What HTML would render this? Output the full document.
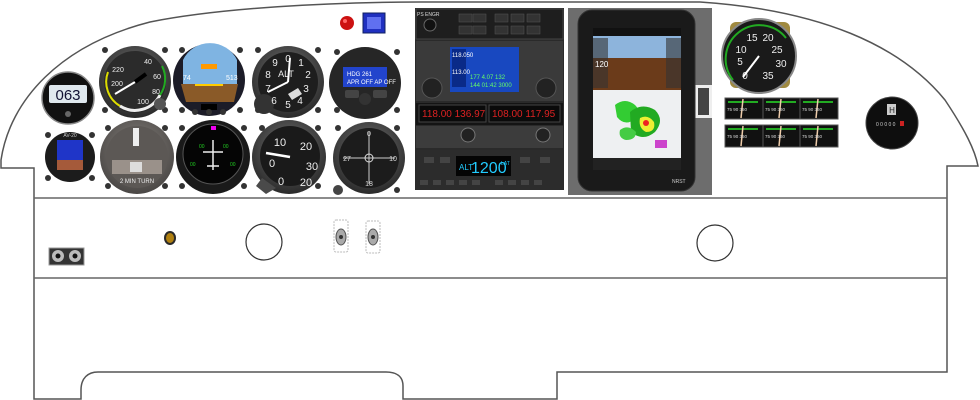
<!DOCTYPE html>
<html><head><meta charset="utf-8"><style>
html,body{margin:0;padding:0;background:#fff;}
svg{display:block;font-family:"Liberation Sans",sans-serif;}
</style></head><body>
<svg width="980" height="400" viewBox="0 0 980 400" xmlns="http://www.w3.org/2000/svg">
<defs>
<radialGradient id="bez" cx="50%" cy="40%" r="60%"><stop offset="0" stop-color="#777"/><stop offset="1" stop-color="#2a2a2a"/></radialGradient>
<radialGradient id="gray" cx="50%" cy="40%" r="60%"><stop offset="0" stop-color="#8a8580"/><stop offset="1" stop-color="#4a4745"/></radialGradient>
</defs>
<!-- panel outline -->
<path d="M34,399 L34,168 L1,168 L1,160 C10,100 60,45 150,22 C220,8 330,2 420,2 L700,2 C820,10 900,45 945,100 C965,130 975,150 978,166 L947,166 L947,372 L557,372 L557,399 L403,399 L403,386 C403,376 396,372 386,372 L98,372 C88,372 81,378 81,390 L81,399 Z" fill="#fff" stroke="#555" stroke-width="1.5"/>
<line x1="34" y1="198" x2="947" y2="198" stroke="#666" stroke-width="1.5"/>
<line x1="34" y1="278" x2="947" y2="278" stroke="#666" stroke-width="1.5"/>

<!-- screws -->
<g fill="#333">
<circle cx="105" cy="50" r="3"/><circle cx="165" cy="50" r="3"/><circle cx="105" cy="110" r="3"/><circle cx="165" cy="110" r="3"/>
<circle cx="182" cy="50" r="3"/><circle cx="240" cy="50" r="3"/><circle cx="182" cy="110" r="3"/><circle cx="240" cy="110" r="3"/>
<circle cx="258" cy="50" r="3"/><circle cx="318" cy="50" r="3"/><circle cx="258" cy="110" r="3"/><circle cx="318" cy="110" r="3"/>
<circle cx="337" cy="52" r="3"/><circle cx="397" cy="52" r="3"/><circle cx="337" cy="110" r="3"/><circle cx="397" cy="110" r="3"/>
<circle cx="48" cy="135" r="3"/><circle cx="92" cy="135" r="3"/><circle cx="48" cy="178" r="3"/><circle cx="92" cy="178" r="3"/>
<circle cx="108" cy="128" r="3"/><circle cx="165" cy="128" r="3"/><circle cx="108" cy="186" r="3"/><circle cx="165" cy="186" r="3"/>
<circle cx="182" cy="128" r="3"/><circle cx="244" cy="128" r="3"/><circle cx="182" cy="186" r="3"/><circle cx="244" cy="186" r="3"/>
<circle cx="262" cy="128" r="3"/><circle cx="318" cy="128" r="3"/><circle cx="318" cy="186" r="3"/>
<circle cx="338" cy="128" r="3"/><circle cx="397" cy="128" r="3"/><circle cx="338" cy="190" r="3"/><circle cx="397" cy="190" r="3"/>
</g>

<!-- clock -->
<circle cx="68" cy="98" r="26" fill="#111" stroke="#888" stroke-width="1.5"/>
<rect x="49" y="85" width="38" height="18" rx="2" fill="#dfe8ee"/>
<text x="68" y="100" font-size="15" text-anchor="middle" fill="#113">063</text>
<circle cx="68" cy="114" r="3" fill="#666"/>

<!-- airspeed -->
<circle cx="135" cy="82" r="36" fill="url(#bez)"/>
<circle cx="135" cy="82" r="31" fill="#2b2b2b"/>
<path d="M108,72 A28,28 0 0 0 120,106" stroke="#dd0" stroke-width="2" fill="none"/>
<path d="M120,106 A28,28 0 0 0 160,95" stroke="#eee" stroke-width="3" fill="none"/>
<path d="M160,95 A28,28 0 0 0 162,66" stroke="#2a2" stroke-width="2" fill="none"/>
<line x1="135" y1="82" x2="115" y2="94" stroke="#fff" stroke-width="2"/>
<line x1="135" y1="82" x2="146" y2="74" stroke="#000" stroke-width="4"/>
<g fill="#eee" font-size="7" text-anchor="middle"><text x="118" y="72">220</text><text x="117" y="86">200</text><text x="148" y="64">40</text><text x="157" y="79">60</text><text x="156" y="94">80</text><text x="143" y="104">100</text></g>
<circle cx="160" cy="104" r="6" fill="#555"/>

<!-- ADI -->
<circle cx="209" cy="80" r="36" fill="#1c1c28"/>
<path d="M183,60 A30,30 0 0 1 237,60 L237,84 L183,84 Z" fill="#7fb4e2"/>
<path d="M181,84 L238,84 L234,102 L186,102 Z" fill="#8a5a28"/>
<rect x="201" y="64" width="16" height="5" fill="#f90"/>
<line x1="195" y1="85" x2="223" y2="85" stroke="#fc0" stroke-width="2"/>
<text x="183" y="80" font-size="7" fill="#fff">74</text><text x="226" y="80" font-size="7" fill="#fff">513</text>
<rect x="201" y="104" width="16" height="6" fill="#000"/>
<circle cx="195" cy="112" r="3" fill="#333"/><circle cx="209" cy="112" r="3" fill="#333"/><circle cx="223" cy="112" r="3" fill="#333"/>

<!-- altimeter -->
<circle cx="288" cy="82" r="36" fill="url(#bez)"/>
<circle cx="288" cy="82" r="30" fill="#1e1e1e"/>
<circle cx="264" cy="104" r="10" fill="#333"/>
<g fill="#eee" font-size="10" text-anchor="middle"><text x="288" y="62">0</text><text x="301" y="66">1</text><text x="308" y="78">2</text><text x="306" y="92">3</text><text x="300" y="104">4</text><text x="288" y="108">5</text><text x="274" y="104">6</text><text x="268" y="92">7</text><text x="268" y="78">8</text><text x="275" y="66">9</text><text x="286" y="77" font-size="9">ALT</text></g>
<line x1="288" y1="82" x2="268" y2="92" stroke="#fff" stroke-width="2"/>
<line x1="288" y1="82" x2="290" y2="58" stroke="#fff" stroke-width="2"/>
<path d="M288,94 l10,-6 l4,6 l-10,6 z" fill="#ddd"/>

<!-- autopilot -->
<circle cx="365" cy="83" r="36" fill="#262626"/>
<rect x="343" y="67" width="44" height="20" fill="#2244cc"/>
<text x="347" y="76" font-size="6" fill="#fff">HDG 261</text><text x="347" y="84" font-size="6" fill="#fff">APR OFF  AP OFF</text>
<rect x="345" y="90" width="14" height="8" rx="2" fill="#444"/><rect x="373" y="90" width="14" height="8" rx="2" fill="#444"/>
<circle cx="365" cy="99" r="6" fill="#333"/>

<!-- AV-20 -->
<circle cx="70" cy="157" r="25" fill="#1c1c1c"/>
<rect x="57" y="140" width="26" height="30" fill="#1f35c8"/>
<rect x="57" y="160" width="26" height="10" fill="#a55a3a"/>
<text x="70" y="137" font-size="5" fill="#ccc" text-anchor="middle">AV-20</text>

<!-- turn coordinator -->
<circle cx="137" cy="157" r="37" fill="url(#gray)"/>
<circle cx="137" cy="157" r="31" fill="#5c5855"/>
<rect x="133" y="128" width="6" height="18" fill="#eee"/>
<rect x="112" y="160" width="50" height="14" fill="#9a918a"/>
<rect x="130" y="162" width="12" height="10" fill="#ddd"/>
<text x="137" y="183" font-size="6" fill="#eee" text-anchor="middle">2 MIN TURN</text>

<!-- EFIS -->
<circle cx="213" cy="157" r="37" fill="#1a1a1a"/>
<circle cx="213" cy="154" r="30" fill="#050505" stroke="#555"/>
<path d="M213,140 v30 M203,152 h20 M207,166 h12" stroke="#eee" stroke-width="1.5" fill="none"/>
<rect x="211" y="126" width="5" height="4" fill="#e0e"/>
<g fill="#2c2" font-size="5"><text x="199" y="148">00</text><text x="223" y="148">00</text><text x="190" y="166">00</text><text x="230" y="166">00</text></g>

<!-- VSI -->
<circle cx="289" cy="157" r="37" fill="url(#bez)"/>
<circle cx="290" cy="156" r="30" fill="#1a1a1a"/>
<path d="M262,178 l-6,8 l10,8 l10,-6 z" fill="#4a4a4a"/>
<g fill="#eee" font-size="11" text-anchor="middle"><text x="280" y="146">10</text><text x="306" y="150">20</text><text x="312" y="170">30</text><text x="272" y="167">0</text><text x="281" y="185">0</text><text x="306" y="186">20</text></g>
<line x1="290" y1="157" x2="266" y2="153" stroke="#fff" stroke-width="2.5"/>

<!-- DG -->
<circle cx="369" cy="158" r="36" fill="url(#bez)"/>
<circle cx="369" cy="158" r="30" fill="#1c1c1c"/>
<line x1="369" y1="132" x2="369" y2="184" stroke="#ccc"/><line x1="343" y1="158" x2="395" y2="158" stroke="#ccc"/>
<circle cx="369" cy="158" r="4" fill="none" stroke="#ddd"/>
<g fill="#ddd" font-size="7" text-anchor="middle"><text x="369" y="136">0</text><text x="393" y="161">10</text><text x="369" y="186">18</text><text x="347" y="161">27</text></g>
<circle cx="338" cy="190" r="5" fill="#444"/>

<!-- lights -->
<circle cx="347" cy="23" r="7" fill="#c11"/>
<circle cx="345" cy="21" r="2" fill="#f66"/>
<rect x="363" y="13" width="22" height="20" fill="#2030c0" stroke="#102060"/>
<rect x="367" y="17" width="14" height="12" fill="#6070f0"/>

<!-- center stack -->
<rect x="415" y="8" width="149" height="182" fill="#2a2a2a"/>
<rect x="416" y="9" width="147" height="30" fill="#1e1e1e" stroke="#444"/>
<circle cx="430" cy="25" r="6" fill="#111" stroke="#666"/>
<g fill="#333" stroke="#555" stroke-width=".5">
<rect x="459" y="14" width="13" height="8"/><rect x="473" y="14" width="13" height="8"/><rect x="495" y="14" width="13" height="8"/><rect x="511" y="14" width="13" height="8"/><rect x="527" y="14" width="13" height="8"/>
<rect x="459" y="26" width="13" height="8"/><rect x="473" y="26" width="13" height="8"/><rect x="495" y="26" width="13" height="8"/><rect x="511" y="26" width="13" height="8"/><rect x="527" y="26" width="13" height="8"/>
</g>
<text x="417" y="16" font-size="5" fill="#ddd">PS ENGR</text>
<rect x="416" y="41" width="147" height="60" fill="#3a3a3a"/>
<rect x="450" y="47" width="69" height="45" fill="#1848c0"/>
<rect x="452" y="49" width="14" height="38" fill="#0a2a88"/>
<text x="452" y="57" font-size="6" fill="#fff">118.050</text><text x="452" y="74" font-size="6" fill="#fff">113.00</text>
<text x="470" y="79" font-size="6" fill="#6f6">177  4.07  132</text><text x="470" y="87" font-size="6" fill="#6f6">144  01:42  3000</text>
<circle cx="432" cy="88" r="10" fill="#222" stroke="#555"/><circle cx="546" cy="88" r="10" fill="#222" stroke="#555"/>
<rect x="416" y="103" width="147" height="22" fill="#141414"/>
<rect x="419" y="105" width="67" height="17" fill="#0a0a0a" stroke="#444"/><rect x="489" y="105" width="71" height="17" fill="#0a0a0a" stroke="#444"/>
<text x="422" y="117" font-size="10" fill="#d22">118.00 136.97</text>
<text x="492" y="117" font-size="10" fill="#d22">108.00 117.95</text>
<rect x="416" y="126" width="147" height="22" fill="#3c3c3c"/>
<circle cx="468" cy="135" r="7" fill="#222" stroke="#777"/><circle cx="543" cy="135" r="7" fill="#222" stroke="#777"/>
<rect x="416" y="150" width="147" height="40" fill="#2c2c2c"/>
<rect x="456" y="156" width="55" height="20" fill="#050505"/>
<text x="459" y="170" font-size="8" fill="#2cf">ALT</text><text x="471" y="173" font-size="16" fill="#2cf">1200</text>
<text x="501" y="165" font-size="5" fill="#2cf">LAT</text>
<g fill="#444"><rect x="420" y="180" width="8" height="5"/><rect x="433" y="180" width="8" height="5"/><rect x="446" y="180" width="8" height="5"/><rect x="459" y="180" width="8" height="5"/><rect x="472" y="180" width="8" height="5"/><rect x="495" y="180" width="8" height="5"/><rect x="508" y="180" width="8" height="5"/><rect x="521" y="180" width="8" height="5"/><rect x="534" y="180" width="8" height="5"/><rect x="424" y="157" width="10" height="6"/><rect x="440" y="157" width="10" height="6"/><rect x="520" y="157" width="10" height="6"/><rect x="540" y="157" width="10" height="6"/></g>

<!-- tablet -->
<rect x="568" y="8" width="144" height="187" fill="#6d6d6d"/>
<rect x="695" y="85" width="17" height="33" fill="#eee"/>
<rect x="698" y="88" width="11" height="27" fill="#444"/>
<rect x="578" y="10" width="117" height="181" rx="14" fill="#1a1a1a" stroke="#333"/>
<rect x="593" y="28" width="88" height="142" fill="#111"/>
<rect x="593" y="36" width="88" height="22" fill="#8db4dc"/>
<rect x="593" y="58" width="88" height="32" fill="#6b3b1a"/>
<rect x="593" y="38" width="15" height="50" fill="#333" opacity=".6"/><rect x="666" y="38" width="15" height="50" fill="#333" opacity=".6"/>
<text x="595" y="67" font-size="8" fill="#fff">120</text>
<rect x="593" y="90" width="88" height="68" fill="#eef0f2"/>
<path d="M615,105 q10,-8 20,0 q8,8 0,14 q-10,8 -18,-2 z" fill="#3c3"/>
<path d="M630,112 q12,-10 25,-2 q10,10 0,22 q-12,10 -24,0 z" fill="#2a2"/>
<path d="M640,118 q8,-4 14,4 q2,10 -8,10 q-8,-4 -6,-14z" fill="#ee3"/>
<circle cx="646" cy="123" r="3" fill="#e22"/>
<path d="M620,130 q8,-6 16,2 q0,8 -10,8 q-8,-2 -6,-10z" fill="#4c4"/>
<rect x="655" y="140" width="12" height="8" fill="#c4c"/>
<rect x="593" y="158" width="88" height="12" fill="#222"/>
<text x="672" y="183" font-size="5" fill="#ccc">NRST</text>

<!-- tachometer -->
<rect x="730" y="22" width="60" height="66" rx="6" fill="#a08a40" transform="rotate(0)"/>
<circle cx="759" cy="56" r="37" fill="#1a1a1a" stroke="#888" stroke-width="2"/>
<path d="M733,80 A33,33 0 0 1 786,38" stroke="#2a2" stroke-width="2" fill="none"/>
<g fill="#eee" font-size="10" text-anchor="middle"><text x="752" y="41">15</text><text x="768" y="41">20</text><text x="741" y="53">10</text><text x="777" y="53">25</text><text x="740" y="65">5</text><text x="781" y="67">30</text><text x="745" y="79">0</text><text x="768" y="79">35</text></g>
<line x1="759" y1="56" x2="743" y2="77" stroke="#fff" stroke-width="2"/>

<!-- small gauges -->
<g>
<rect x="725" y="98" width="38" height="21" fill="#111" stroke="#555"/><rect x="763" y="98" width="37" height="21" fill="#111" stroke="#555"/><rect x="800" y="98" width="38" height="21" fill="#111" stroke="#555"/>
<rect x="725" y="125" width="38" height="22" fill="#111" stroke="#555"/><rect x="763" y="125" width="37" height="22" fill="#111" stroke="#555"/><rect x="800" y="125" width="38" height="22" fill="#111" stroke="#555"/>
<g fill="#2a2"><rect x="728" y="101" width="30" height="2"/><rect x="766" y="101" width="30" height="2"/><rect x="803" y="101" width="30" height="2"/><rect x="728" y="128" width="30" height="2"/><rect x="766" y="128" width="30" height="2"/><rect x="803" y="128" width="30" height="2"/></g>
<g stroke="#eca" stroke-width="1.5"><line x1="743" y1="99" x2="741" y2="118"/><line x1="781" y1="99" x2="779" y2="118"/><line x1="818" y1="99" x2="816" y2="118"/><line x1="743" y1="126" x2="741" y2="146"/><line x1="781" y1="126" x2="779" y2="146"/><line x1="818" y1="126" x2="816" y2="146"/></g>
<g fill="#ddd" font-size="4.5"><text x="727" y="111">75  90  360</text><text x="765" y="111">75  90  360</text><text x="802" y="111">75  90  360</text><text x="727" y="138">75  90  360</text><text x="765" y="138">75  90  360</text><text x="802" y="138">75  90  360</text></g>
</g>

<!-- hour meter -->
<circle cx="892" cy="123" r="26" fill="#0e0e0e" stroke="#444"/>
<rect x="887" y="104" width="9" height="11" fill="#ccc"/>
<text x="892" y="113" font-size="8" fill="#222" text-anchor="middle">H</text>
<text x="876" y="126" font-size="5" fill="#ccc">0 0 0 0 0</text><rect x="900" y="121" width="4" height="5" fill="#c22"/>

<!-- lower panel items -->
<rect x="49" y="248" width="35" height="17" fill="#333" stroke="#999"/>
<circle cx="58" cy="256" r="6" fill="#bbb"/><circle cx="58" cy="256" r="2.5" fill="#111"/>
<circle cx="75" cy="256" r="6" fill="#bbb"/><circle cx="75" cy="256" r="2.5" fill="#111"/>
<ellipse cx="170" cy="238" rx="6" ry="7" fill="#2a2a2a"/><ellipse cx="170" cy="238" rx="4" ry="5" fill="#b08010"/>
<ellipse cx="264" cy="242" rx="18" ry="18" fill="#fff" stroke="#333" stroke-width="1.2"/>
<ellipse cx="715" cy="243" rx="18" ry="18" fill="#fff" stroke="#333" stroke-width="1.2"/>
<rect x="334" y="220" width="14" height="32" rx="2" fill="#fff" stroke="#bbb" stroke-dasharray="2,1"/>
<ellipse cx="341" cy="237" rx="5" ry="8" fill="#aaa" stroke="#555"/><circle cx="341" cy="237" r="2" fill="#333"/>
<rect x="366" y="221" width="14" height="32" rx="2" fill="#fff" stroke="#bbb" stroke-dasharray="2,1"/>
<ellipse cx="373" cy="237" rx="5" ry="8" fill="#aaa" stroke="#555"/><circle cx="373" cy="237" r="2" fill="#333"/>
</svg>
</body></html>
